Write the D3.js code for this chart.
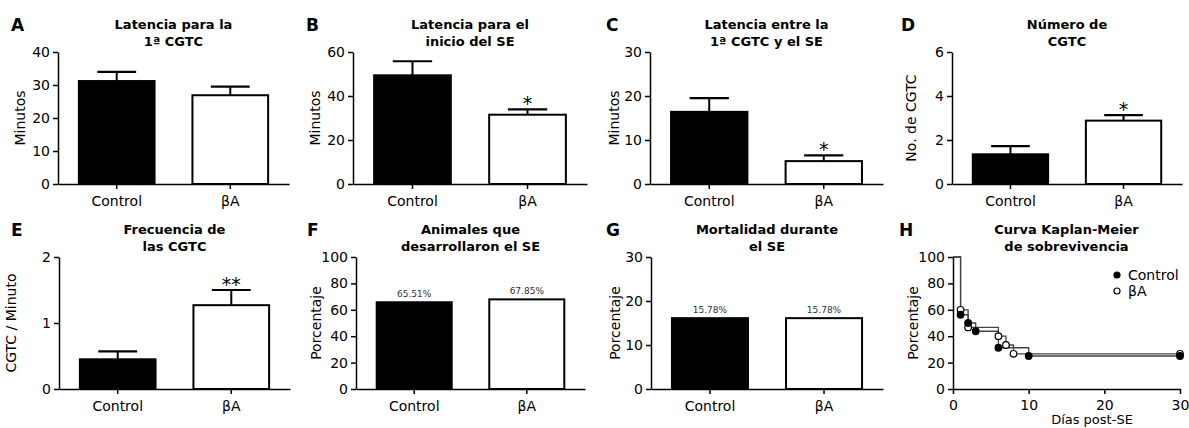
<!DOCTYPE html>
<html>
<head>
<meta charset="utf-8">
<script src="https://cdn.jsdelivr.net/npm/d3@7"></script>
<style>
  body { margin: 0; background: #fff; }
  text { font-family: "DejaVu Sans", Verdana, sans-serif; }
</style>
</head>
<body>
<div id="chart"></div>
<script>
//Data
const groups = ['Control', 'βA']

const latenciaCGTC = [31.2, 26.9]
const latenciaCGTCErr = [2.8, 2.6]

const latenciaSE = [49.4, 31.5]
const latenciaSEErr = [6.4, 2.4]

const latenciaEntre = [16.4, 5.2]
const latenciaEntreErr = [3.1, 1.3]

const numeroCGTC = [1.35, 2.88]
const numeroCGTCErr = [0.37, 0.25]

const frecuenciaCGTC = [0.45, 1.27]
const frecuenciaCGTCErr = [0.12, 0.23]

const desarrollaronSE = [65.7, 67.9]
const desarrollaronLabels = ['65.51%', '67.85%']

const mortalidadSE = [16.1, 16.1]
const mortalidadLabels = ['15.78%', '15.78%']

const kmControlDays = [0, 1, 2, 3, 6, 10, 30]
const kmControlSurv = [100, 56.25, 50, 43.75, 31.25, 25, 25]
const kmBetaDays = [0, 1, 2, 6, 7, 8, 30]
const kmBetaSurv = [100, 60, 46.67, 40, 33.33, 26.67, 26.67]

//Dimensions
let dimensions = { width: 1189, height: 428 }

const svg = d3.select('#chart')
              .append('svg')
              .attr('width', dimensions.width)
              .attr('height', dimensions.height)

const font = '"DejaVu Sans", Verdana, sans-serif'

function styleAxis(g) {
  g.select('.domain').attr('stroke', '#000').attr('stroke-width', 1.5)
  g.selectAll('.tick line').attr('stroke', '#000').attr('stroke-width', 1.5)
  g.selectAll('.tick text').attr('font-size', '14px').attr('font-family', font).attr('fill', '#000')
}

function panelText(p) {
  const cx = (p.x0 + p.x1) / 2
  svg.append('text')
     .attr('x', p.letterX).attr('y', p.top - 21)
     .attr('font-size', '17px').attr('font-weight', 'bold')
     .text(p.letter)
  p.title.forEach((t, i) => {
    svg.append('text')
       .attr('x', cx).attr('y', p.top - 23 + i * 17)
       .attr('text-anchor', 'middle')
       .attr('font-size', '13px').attr('font-weight', 'bold')
       .text(t)
  })
  svg.append('text')
     .attr('transform', `translate(${p.x0 - p.labelOff},${(p.top + p.bottom) / 2}) rotate(-90)`)
     .attr('text-anchor', 'middle')
     .attr('font-size', '14px')
     .text(p.ylabel)
}

function barPanel(p) {
  const xScale = d3.scaleBand()
                   .domain(groups)
                   .range([p.x0, p.x1])
                   .paddingInner(0.316)
                   .paddingOuter(0.175)
  const yScale = d3.scaleLinear()
                   .domain([0, p.ticks[p.ticks.length - 1]])
                   .range([p.bottom, p.top])

  const bw = xScale.bandwidth()

  // error bars (upper only)
  if (p.err) {
    groups.forEach((g, i) => {
      const cx = xScale(g) + bw / 2
      const yTop = yScale(p.values[i] + p.err[i])
      svg.append('line')
         .attr('x1', cx).attr('x2', cx)
         .attr('y1', yScale(p.values[i])).attr('y2', yTop)
         .attr('stroke', '#000').attr('stroke-width', 2)
      svg.append('line')
         .attr('x1', cx - bw / 4).attr('x2', cx + bw / 4)
         .attr('y1', yTop).attr('y2', yTop)
         .attr('stroke', '#000').attr('stroke-width', 2.2)
      if (p.stars && p.stars[i]) {
        svg.append('text')
           .attr('x', cx).attr('y', yTop + 1)
           .attr('text-anchor', 'middle')
           .attr('font-size', '19px')
           .text(p.stars[i])
      }
    })
  }

  svg.selectAll(null)
     .data(p.values)
     .join('rect')
     .attr('x', (d, i) => xScale(groups[i]) + 1)
     .attr('width', bw - 2)
     .attr('y', d => yScale(d))
     .attr('height', d => p.bottom - yScale(d))
     .attr('fill', (d, i) => i === 0 ? '#000' : '#fff')
     .attr('stroke', '#000')
     .attr('stroke-width', 2)

  if (p.labels) {
    svg.selectAll(null)
       .data(p.values)
       .join('text')
       .attr('x', (d, i) => xScale(groups[i]) + bw / 2)
       .attr('y', d => yScale(d) - 5)
       .attr('text-anchor', 'middle')
       .attr('font-size', '9px')
       .attr('fill', '#333')
       .text((d, i) => p.labels[i])
  }

  // Y Axis
  svg.append('g')
     .attr('transform', `translate(${p.x0},0)`)
     .call(d3.axisLeft(yScale).tickValues(p.ticks).tickFormat(d3.format('d'))
             .tickSize(5).tickSizeOuter(0).tickPadding(3))
     .call(styleAxis)

  // X Axis
  svg.append('g')
     .attr('transform', `translate(0,${p.bottom})`)
     .call(d3.axisBottom(xScale).tickSize(5).tickSizeOuter(0).tickPadding(7))
     .call(styleAxis)

  panelText(p)
}

const topRow = { top: 52, bottom: 184 }
const botRow = { top: 257, bottom: 389 }

barPanel({ ...topRow, x0: 58, x1: 289, letter: 'A', letterX: 11, labelOff: 33,
  title: ['Latencia para la', '1ª CGTC'], ylabel: 'Minutos',
  values: latenciaCGTC, err: latenciaCGTCErr, ticks: [0, 10, 20, 30, 40] })

barPanel({ ...topRow, x0: 353, x1: 587, letter: 'B', letterX: 306, labelOff: 33,
  title: ['Latencia para el', 'inicio del SE'], ylabel: 'Minutos',
  values: latenciaSE, err: latenciaSEErr, stars: ['', '*'], ticks: [0, 20, 40, 60] })

barPanel({ ...topRow, x0: 650, x1: 883, letter: 'C', letterX: 606, labelOff: 31,
  title: ['Latencia entre la', '1ª CGTC y el SE'], ylabel: 'Minutos',
  values: latenciaEntre, err: latenciaEntreErr, stars: ['', '*'], ticks: [0, 10, 20, 30] })

barPanel({ ...topRow, x0: 952, x1: 1182, letter: 'D', letterX: 901, labelOff: 36,
  title: ['Número de', 'CGTC'], ylabel: 'No. de CGTC',
  values: numeroCGTC, err: numeroCGTCErr, stars: ['', '*'], ticks: [0, 2, 4, 6] })

barPanel({ ...botRow, x0: 59, x1: 290, letter: 'E', letterX: 11, labelOff: 43,
  title: ['Frecuencia de', 'las CGTC'], ylabel: 'CGTC / Minuto',
  values: frecuenciaCGTC, err: frecuenciaCGTCErr, stars: ['', '**'], ticks: [0, 1, 2] })

barPanel({ ...botRow, x0: 356, x1: 585, letter: 'F', letterX: 307, labelOff: 35,
  title: ['Animales que', 'desarrollaron el SE'], ylabel: 'Porcentaje',
  values: desarrollaronSE, labels: desarrollaronLabels, ticks: [0, 20, 40, 60, 80, 100] })

barPanel({ ...botRow, x0: 651, x1: 883, letter: 'G', letterX: 606, labelOff: 31,
  title: ['Mortalidad durante', 'el SE'], ylabel: 'Porcentaje',
  values: mortalidadSE, labels: mortalidadLabels, ticks: [0, 10, 20, 30] })

//Kaplan-Meier panel
const km = { ...botRow, x0: 953, x1: 1180, letter: 'H', letterX: 899, labelOff: 35,
  title: ['Curva Kaplan-Meier', 'de sobrevivencia'], ylabel: 'Porcentaje' }

const xKM = d3.scaleLinear().domain([0, 30]).range([km.x0, km.x1])
const yKM = d3.scaleLinear().domain([0, 100]).range([km.bottom, km.top])

const series = [
  { days: kmBetaDays, surv: kmBetaSurv, fill: '#fff' },
  { days: kmControlDays, surv: kmControlSurv, fill: '#000' }
]

const stepLine = d3.line()
                   .x(d => xKM(d[0]))
                   .y(d => yKM(d[1]))
                   .curve(d3.curveStepAfter)

series.forEach(s => {
  svg.append('path')
     .attr('d', stepLine(s.days.map((d, i) => [d, s.surv[i]])))
     .attr('fill', 'none')
     .attr('stroke', '#444')
     .attr('stroke-width', 1.3)
})

series.forEach(s => {
  svg.selectAll(null)
     .data(s.days.slice(1).map((d, i) => [d, s.surv[i + 1]]))
     .join('circle')
     .attr('cx', d => xKM(d[0]))
     .attr('cy', d => yKM(d[1]))
     .attr('r', 3.3)
     .attr('fill', s.fill)
     .attr('stroke', '#000')
     .attr('stroke-width', 1.2)
})

svg.append('g')
   .attr('transform', `translate(${km.x0},0)`)
   .call(d3.axisLeft(yKM).tickValues([0, 20, 40, 60, 80, 100]).tickSize(5).tickSizeOuter(0).tickPadding(3))
   .call(styleAxis)

svg.append('g')
   .attr('transform', `translate(0,${km.bottom})`)
   .call(d3.axisBottom(xKM).tickValues([0, 10, 20, 30]).tickSize(5).tickSizeOuter(0).tickPadding(6))
   .call(styleAxis)

svg.append('text')
   .attr('x', 1092).attr('y', 424)
   .attr('text-anchor', 'middle')
   .attr('font-size', '13px')
   .text('Días post-SE')

// Legend
const legend = [{ name: 'Control', fill: '#000' }, { name: 'βA', fill: '#fff' }]
legend.forEach((l, i) => {
  svg.append('circle')
     .attr('cx', 1117).attr('cy', 275 + i * 16)
     .attr('r', 3)
     .attr('fill', l.fill)
     .attr('stroke', '#000')
     .attr('stroke-width', 1.2)
  svg.append('text')
     .attr('x', 1128).attr('y', 280 + i * 16)
     .attr('font-size', '14px')
     .text(l.name)
})

panelText(km)
</script>
</body>
</html>
